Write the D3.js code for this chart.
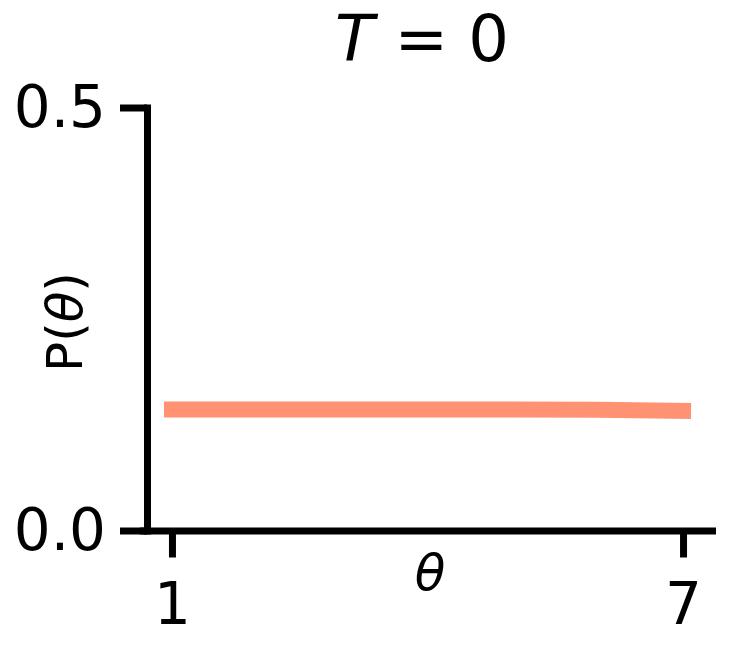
<!DOCTYPE html>
<html>
<head>
<meta charset="utf-8">
<script src="https://cdn.jsdelivr.net/npm/d3@7"></script>
<style>
  html, body { margin: 0; padding: 0; background: #fff; }
  svg { display: block; }
  text { font-family: "DejaVu Sans", sans-serif; fill: #000; }
</style>
</head>
<body>
<svg id="chart" width="746" height="649"></svg>
<script>
// values
var theta = [1, 2, 3, 4, 5, 6, 7];
var prob = [0.143, 0.143, 0.143, 0.143, 0.143, 0.1428, 0.1415];
var xTicks = [1, 7];
var yTicks = [0.0, 0.5];
var xLimits = [0.66, 7.34];
var yLimits = [0, 0.5];

var svg = d3.select('#chart');
var lineColor = '#fe9273';
var spineWidth = 7;

var x = d3.scaleLinear().domain(xLimits).range([143, 712]);
var y = d3.scaleLinear().domain(yLimits).range([530.5, 107.5]);

// y axis
var yAxis = svg.append('g')
    .attr('transform', 'translate(147,0)')
    .call(d3.axisLeft(y)
      .tickValues(yTicks)
      .tickFormat(d3.format('.1f'))
      .tickSizeInner(27)
      .tickSizeOuter(0)
      .tickPadding(14));

// x axis
var xAxis = svg.append('g')
    .attr('transform', 'translate(0,530.5)')
    .call(d3.axisBottom(x)
      .tickValues(xTicks)
      .tickFormat(d3.format('d'))
      .tickSizeInner(27)
      .tickSizeOuter(0)
      .tickPadding(25));

[yAxis, xAxis].forEach(function(a) {
  a.select('.domain')
    .attr('stroke', '#000')
    .attr('stroke-width', spineWidth)
    .attr('stroke-linecap', 'square');
  a.selectAll('.tick line')
    .attr('stroke', '#000')
    .attr('stroke-width', spineWidth);
  a.selectAll('.tick text')
    .style('font-size', '58px')
    .style('font-family', '"DejaVu Sans", sans-serif');
});

// the curve
var line = d3.line()
    .x(function(d, i) { return x(theta[i]); })
    .y(function(d) { return y(d); });

svg.append('path')
    .datum(prob)
    .attr('d', line)
    .attr('fill', 'none')
    .attr('stroke', lineColor)
    .attr('stroke-width', 16)
    .attr('stroke-linecap', 'square');

// labels
var title = svg.append('text')
    .attr('x', 422)
    .attr('y', 61)
    .attr('text-anchor', 'middle')
    .style('font-size', '64px');
title.append('tspan').style('font-style', 'italic').text('T');
title.append('tspan').text(' = 0');

svg.append('text')
    .attr('x', 430)
    .attr('y', 590)
    .attr('text-anchor', 'middle')
    .style('font-size', '50px')
    .style('font-style', 'italic')
    .text('θ');

var ylab = svg.append('text')
    .attr('transform', 'translate(82,322) rotate(-90)')
    .attr('text-anchor', 'middle')
    .style('font-size', '50px');
ylab.append('tspan').text('P(');
ylab.append('tspan').style('font-style', 'italic').text('θ');
ylab.append('tspan').text(')');
</script>
</body>
</html>
